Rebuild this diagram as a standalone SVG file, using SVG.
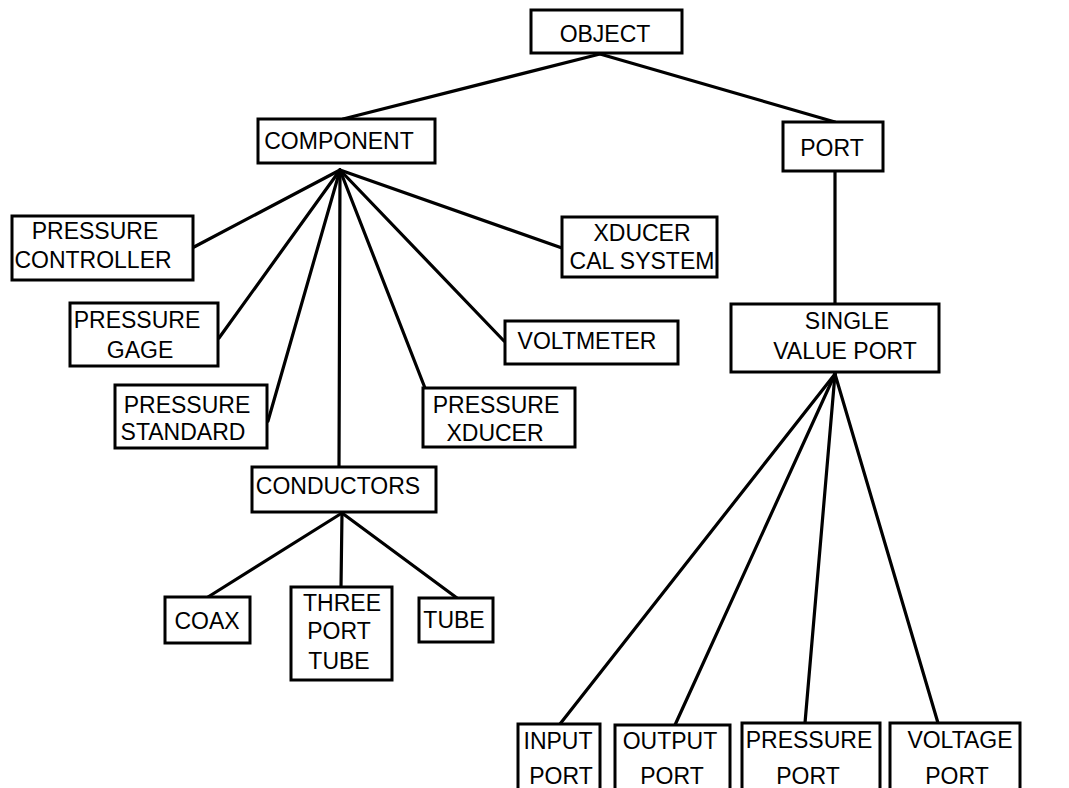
<svg xmlns="http://www.w3.org/2000/svg" width="1069" height="788" viewBox="0 0 1069 788">
  <style>
    .box { fill: #fff; stroke: #000; stroke-width: 3; }
    .lbl { font-family: "Liberation Sans", Arial, sans-serif; font-size: 23px; fill: #000; text-anchor: middle; }
    .edge { stroke: #000; stroke-width: 3.2; fill: none; stroke-linecap: round; }
  </style>
  <rect width="1069" height="788" fill="#fff"/>

  <!-- connectors -->
  <g id="connectors">
    <line class="edge" x1="600" y1="54" x2="343" y2="119"/>
    <line class="edge" x1="600" y1="54" x2="835" y2="122"/>
    <line class="edge" x1="340" y1="170" x2="194" y2="247"/>
    <line class="edge" x1="340" y1="170" x2="219" y2="338"/>
    <line class="edge" x1="340" y1="170" x2="268" y2="421"/>
    <line class="edge" x1="340" y1="170" x2="339" y2="467"/>
    <line class="edge" x1="340" y1="170" x2="425" y2="388"/>
    <line class="edge" x1="340" y1="170" x2="504" y2="341"/>
    <line class="edge" x1="340" y1="170" x2="562" y2="248"/>
    <line class="edge" x1="835" y1="171" x2="835" y2="304"/>
    <line class="edge" x1="342" y1="513" x2="208" y2="597"/>
    <line class="edge" x1="342" y1="513" x2="341" y2="587"/>
    <line class="edge" x1="342" y1="513" x2="457" y2="598"/>
    <line class="edge" x1="835" y1="374" x2="560" y2="724"/>
    <line class="edge" x1="835" y1="374" x2="675" y2="725"/>
    <line class="edge" x1="835" y1="374" x2="805" y2="723"/>
    <line class="edge" x1="835" y1="374" x2="938" y2="723"/>
  </g>

  <g id="object">
    <rect class="box" x="531" y="10" width="151" height="43"/>
    <text class="lbl" x="605" y="42">OBJECT</text>
  </g>
  <g id="component">
    <rect class="box" x="258" y="119" width="177" height="44"/>
    <text class="lbl" x="339" y="149">COMPONENT</text>
  </g>
  <g id="port">
    <rect class="box" x="783" y="122" width="100" height="49"/>
    <text class="lbl" x="832" y="156">PORT</text>
  </g>
  <g id="pressure-controller">
    <rect class="box" x="12" y="216" width="181" height="64"/>
    <text class="lbl" x="95" y="239">PRESSURE</text>
    <text class="lbl" x="93" y="268">CONTROLLER</text>
  </g>
  <g id="xducer-cal-system">
    <rect class="box" x="562" y="217" width="155" height="60"/>
    <text class="lbl" x="642" y="241">XDUCER</text>
    <text class="lbl" x="642" y="269">CAL SYSTEM</text>
  </g>
  <g id="pressure-gage">
    <rect class="box" x="70" y="303" width="148" height="63"/>
    <text class="lbl" x="137" y="328">PRESSURE</text>
    <text class="lbl" x="140" y="358">GAGE</text>
  </g>
  <g id="voltmeter">
    <rect class="box" x="505" y="321" width="173" height="43"/>
    <text class="lbl" x="587" y="349">VOLTMETER</text>
  </g>
  <g id="single-value-port">
    <rect class="box" x="731" y="304" width="208" height="68"/>
    <text class="lbl" x="847" y="329">SINGLE</text>
    <text class="lbl" x="845" y="359">VALUE PORT</text>
  </g>
  <g id="pressure-standard">
    <rect class="box" x="115" y="385" width="152" height="63"/>
    <text class="lbl" x="187" y="413">PRESSURE</text>
    <text class="lbl" x="183" y="440">STANDARD</text>
  </g>
  <g id="pressure-xducer">
    <rect class="box" x="423" y="388" width="152" height="59"/>
    <text class="lbl" x="496" y="413">PRESSURE</text>
    <text class="lbl" x="495" y="441">XDUCER</text>
  </g>
  <g id="conductors">
    <rect class="box" x="252" y="467" width="184" height="45"/>
    <text class="lbl" x="338" y="494">CONDUCTORS</text>
  </g>
  <g id="coax">
    <rect class="box" x="165" y="597" width="85" height="46"/>
    <text class="lbl" x="207" y="629">COAX</text>
  </g>
  <g id="three-port-tube">
    <rect class="box" x="291" y="587" width="101" height="93"/>
    <text class="lbl" x="342" y="611">THREE</text>
    <text class="lbl" x="339" y="639">PORT</text>
    <text class="lbl" x="339" y="669">TUBE</text>
  </g>
  <g id="tube">
    <rect class="box" x="419" y="598" width="74" height="44"/>
    <text class="lbl" x="454" y="628">TUBE</text>
  </g>
  <g id="input-port">
    <rect class="box" x="518" y="724" width="82" height="80"/>
    <text class="lbl" x="558" y="749">INPUT</text>
    <text class="lbl" x="561" y="784">PORT</text>
  </g>
  <g id="output-port">
    <rect class="box" x="615" y="725" width="115" height="80"/>
    <text class="lbl" x="670" y="749">OUTPUT</text>
    <text class="lbl" x="672" y="784">PORT</text>
  </g>
  <g id="pressure-port">
    <rect class="box" x="742" y="723" width="138" height="80"/>
    <text class="lbl" x="809" y="748">PRESSURE</text>
    <text class="lbl" x="808" y="784">PORT</text>
  </g>
  <g id="voltage-port">
    <rect class="box" x="890" y="723" width="130" height="80"/>
    <text class="lbl" x="960" y="748">VOLTAGE</text>
    <text class="lbl" x="957" y="784">PORT</text>
  </g>
</svg>
